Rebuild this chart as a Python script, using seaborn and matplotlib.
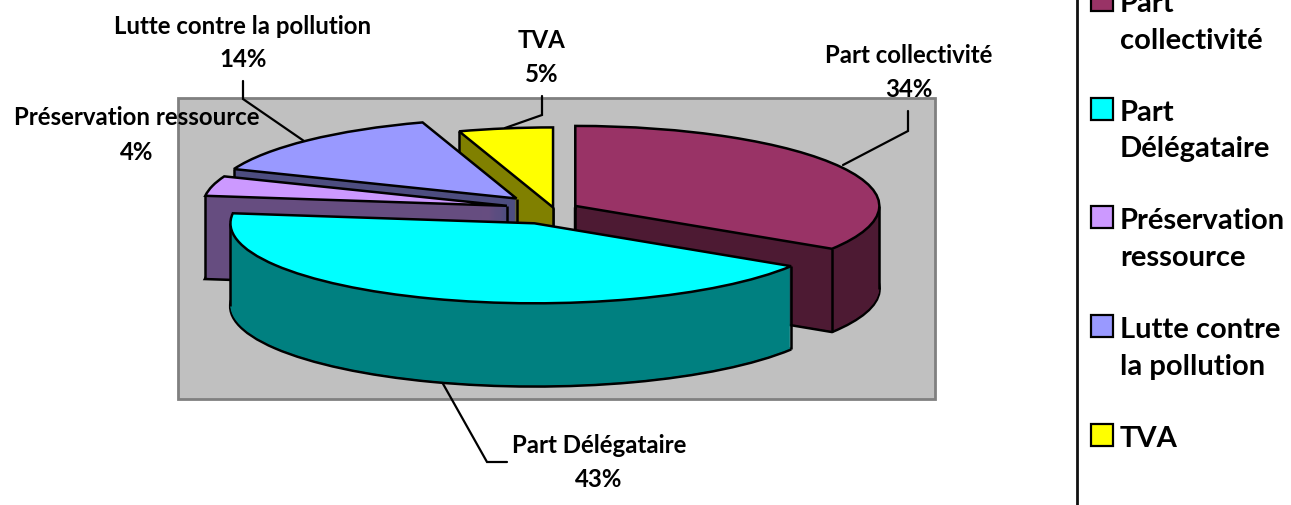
import numpy as np
import matplotlib
matplotlib.use('Agg')
import matplotlib.pyplot as plt
from matplotlib.patches import Rectangle
import seaborn as sns

# 1. Chart data
labels = ['Part collectivité', 'Part Délégataire', 'Préservation ressource',
          'Lutte contre la pollution', 'TVA']
legend_labels = ['Part\ncollectivité', 'Part\nDélégataire', 'Préservation\nressource',
                 'Lutte contre\nla pollution', 'TVA']
shares = [34, 43, 4, 14, 5]
top_colors = ['#993366', '#00ffff', '#cc99ff', '#9999ff', '#ffff00']
wall_colors = ['#4d1a33', '#008080', '#664d80', '#4d4d80', '#808000']
explode = [0.08, 0.19, 0.16, 0.18, 0.02]
draw_order = [4, 5, 3, 2, 1]  # back to front

sns.set_theme(style='white')
plt.rcParams['font.family'] = ['Lato', 'DejaVu Sans']

W, H = 1291, 506
fig = plt.figure(figsize=(W / 100, H / 100), dpi=100, facecolor='white')

# 2. Pixel-space axes for the plot area, leaders and texts
back = fig.add_axes([0, 0, 1, 1], zorder=0)
back.set_xlim(0, W)
back.set_ylim(H, 0)
back.axis('off')
back.add_patch(Rectangle((178, 99), 757, 301, facecolor='#c0c0c0', edgecolor='#808080', lw=2))

leaders = [([908, 908, 843], [112, 132, 166]),
           ([442, 487, 507], [383, 463, 463]),
           ([243, 243, 304], [82, 100, 142]),
           ([542, 542, 505], [97, 116, 129])]
for xs, ys in leaders:
    back.plot(xs, ys, color='black', lw=1.6, solid_joinstyle='miter')

text_pos = [(909, 55, 89), (599, 446, 480), (137, 117, 152), (243, 26, 59), (542, 40, 74)]
for lab, share, (x, y1, y2) in zip(labels, shares, text_pos):
    back.text(x, y1, lab, ha='center', va='center', fontsize=17.3, fontweight='bold', color='black')
    back.text(x, y2, f'{share}%', ha='center', va='center', fontsize=17.3, fontweight='bold', color='black')

# legend, cut by the top of the picture like the original
back.plot([1077, 1077], [0, H], color='#111111', lw=2, clip_on=False)
for i, lab in enumerate(legend_labels):
    y = 4 + 108.7 * i
    back.add_patch(Rectangle((1091, y - 14), 22, 22, facecolor=top_colors[i], edgecolor='black', lw=1.6))
    for k, line in enumerate(lab.split('\n')):
        back.text(1120, y + 36.5 * k, line, ha='left', va='center', fontsize=21,
                  fontweight='bold', color='black')

# 3. Exploded pie, squashed and stacked to get the 3D look
ax = fig.add_axes([0, 0, 1, 1], zorder=1)
ax.patch.set_visible(False)

RX, RY = 304, 80
CX, CY = 554, 210
depth = 83 / RY
pie_args = dict(explode=explode, startangle=90, counterclock=False)

bottom, _ = ax.pie(shares, colors=wall_colors, center=(0, -depth),
                   wedgeprops=dict(edgecolor='black', lw=2.2), **pie_args)
for w, z in zip(bottom, draw_order):
    w.set_zorder(z)

for off in np.linspace(-depth, 0, 84)[1:]:
    layer, _ = ax.pie(shares, colors=wall_colors, center=(0, off),
                      wedgeprops=dict(edgecolor='none', lw=0), **pie_args)
    for w, z in zip(layer, draw_order):
        w.set_zorder(z + 0.1)

top, _ = ax.pie(shares, colors=top_colors,
                wedgeprops=dict(edgecolor='black', lw=1.8, joinstyle='miter'), **pie_args)
for w, z in zip(top, draw_order):
    w.set_zorder(z + 0.3)
    # vertical wall edges: only the ones you can see from the front
    cx, cy = w.center
    t1, t2 = w.theta1, w.theta2
    ends = [t1, t2]
    sides = [a for a in (-180, 0, 180, 360) if t1 <= a <= t2]
    front = [a for a in ends if np.sin(np.radians(a)) <= 0]
    back_ends = [a for a in ends if np.sin(np.radians(a)) > 0]
    has_left = any(np.cos(np.radians(a)) < 0 for a in sides)
    if back_ends and not has_left:
        front.append(min(back_ends, key=lambda a: np.cos(np.radians(a))))
    angles = front + sides
    xs = [cx + np.cos(np.radians(a)) for a in angles]
    ys = [cy + np.sin(np.radians(a)) for a in angles]
    # the tip's edge is hidden when the slice faces the viewer
    if not (t1 <= 270 <= t2 or t1 <= -90 <= t2):
        xs.append(cx)
        ys.append(cy)
    ax.vlines(xs, np.array(ys) - depth, ys, color='black', lw=1.8, zorder=z + 0.2)

ax.set_aspect('auto')
ax.set_xlim(-CX / RX, (W - CX) / RX)
ax.set_ylim((CY - H) / RY, CY / RY)
ax.axis('off')

fig.savefig('out.png', dpi=100, facecolor='white')
plt.close(fig)
